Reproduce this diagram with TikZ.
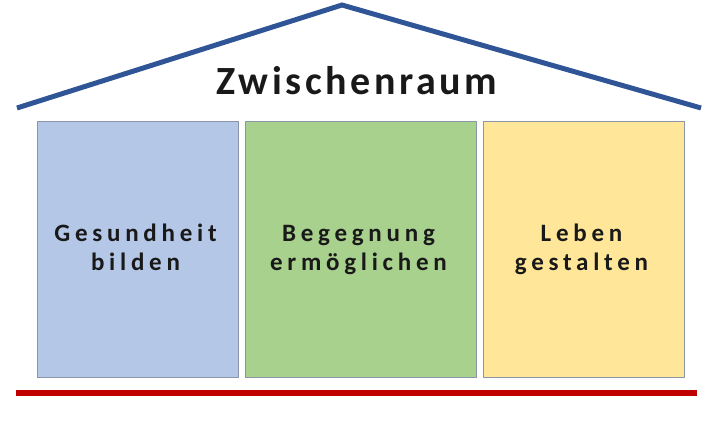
\documentclass[tikz,border=0pt]{standalone}
\usepackage{fontspec}
\setmainfont{Carlito}
\newfontfamily\titlefont[LetterSpace=9,BoldFont={* Bold}]{Carlito}
\newfontfamily\boxfont[LetterSpace=19,BoldFont={* Bold}]{Carlito}
\definecolor{roofblue}{HTML}{2F5597}
\definecolor{floorred}{HTML}{C00000}
\definecolor{fillblue}{HTML}{B4C7E7}
\definecolor{fillgreen}{HTML}{A9D18E}
\definecolor{fillyellow}{HTML}{FFE699}
\definecolor{edgegrey}{HTML}{8A97A8}
\begin{document}
\begin{tikzpicture}[x=1pt,y=-1pt,
  pillar/.style={draw=edgegrey,line width=0.8pt,minimum width=201pt,minimum height=256pt,anchor=north west,inner sep=0pt},
  pillartext/.style={font=\boxfont\bfseries\fontsize{25}{30}\selectfont,anchor=base,inner sep=0pt,text=black!90},
  roofline/.style={draw=roofblue,line width=5pt,line join=miter},
  floorline/.style={draw=floorred,line width=6pt}]
\useasboundingbox (0,0) rectangle (714,421);
\coordinate (rl) at (17,108);
\coordinate (rp) at (342,5);
\coordinate (rr) at (701,108);
\draw[roofline] (rl) -- (rp) -- (rr);
\node[font=\titlefont\bfseries\fontsize{40}{48}\selectfont,anchor=base,text=black!90] (title) at (357,94) {Zwischenraum};
\node[pillar,fill=fillblue] (p1) at (37,121) {};
\node[pillar,fill=fillgreen,minimum width=231pt] (p2) at (245,121) {};
\node[pillar,fill=fillyellow] (p3) at (483,121) {};
\node[pillartext] (t1a) at (135.5,241.5) {Gesundheit};
\node[pillartext] (t1b) at (135.5,270) {bilden};
\node[pillartext] (t2a) at (358.5,241.5) {Begegnung};
\node[pillartext] (t2b) at (358.5,270) {ermöglichen};
\node[pillartext] (t3a) at (581.5,241.5) {Leben};
\node[pillartext] (t3b) at (581.5,270) {gestalten};
\coordinate (fl) at (16,393);
\coordinate (fr) at (697,393);
\draw[floorline] (fl) -- (fr);
\end{tikzpicture}
\end{document}
